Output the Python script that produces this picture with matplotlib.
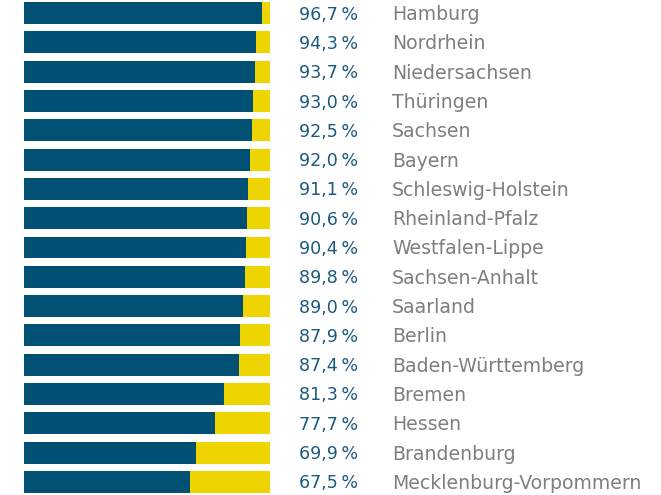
import matplotlib
matplotlib.use('Agg')
import matplotlib.pyplot as plt

regions = ['Hamburg', 'Nordrhein', 'Niedersachsen', 'Thüringen', 'Sachsen', 'Bayern',
           'Schleswig-Holstein', 'Rheinland-Pfalz', 'Westfalen-Lippe', 'Sachsen-Anhalt',
           'Saarland', 'Berlin', 'Baden-Württemberg', 'Bremen', 'Hessen', 'Brandenburg',
           'Mecklenburg-Vorpommern']
values = [96.7, 94.3, 93.7, 93.0, 92.5, 92.0, 91.1, 90.6, 90.4, 89.8, 89.0, 87.9, 87.4,
          81.3, 77.7, 69.9, 67.5]
labels = ['96,7', '94,3', '93,7', '93,0', '92,5', '92,0', '91,1', '90,6', '90,4', '89,8',
          '89,0', '87,9', '87,4', '81,3', '77,7', '69,9', '67,5']

blue = '#005073'
yellow = '#efd500'

fig = plt.figure(figsize=(6.61, 4.95), dpi=100)
ax = fig.add_axes([24 / 661, -0.003, 246 / 661, 1.006])

y = list(range(len(regions)))
rest = [100 - v for v in values]
ax.barh(y, values, height=0.75, color=blue)
ax.barh(y, rest, left=values, height=0.75, color=yellow)

for i, (lab, name) in enumerate(zip(labels, regions)):
    ax.text(135.8, i + 0.05, lab + '\u2009%', ha='right', va='center', fontsize=12.6,
            color='#1a5a80', clip_on=False, family='DejaVu Sans')
    ax.text(149.6, i + 0.05, name, ha='left', va='center', fontsize=13.6,
            color='#7f7f7f', clip_on=False, family='DejaVu Sans')

ax.set_xlim(0, 100)
ax.set_ylim(len(regions) - 0.5, -0.5)
ax.axis('off')

fig.savefig('out.png', dpi=100)
